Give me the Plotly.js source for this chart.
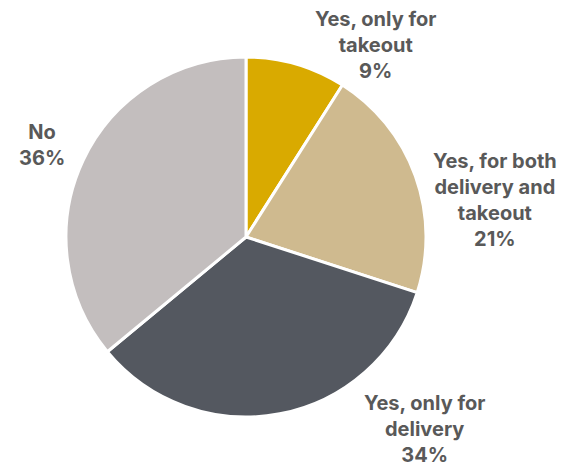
<!DOCTYPE html>
<html>
<head>
<meta charset="utf-8">
<script src="https://cdn.plot.ly/plotly-3.0.1.min.js"></script>
<style>html,body{margin:0;padding:0;background:#fff;}#chart{width:569px;height:470px;}</style>
</head>
<body>
<div id="chart"></div>
<script>
const categories = ["Yes, only for takeout", "Yes, for both delivery and takeout", "Yes, only for delivery", "No"];
const labelLines = ["Yes, only for<br>takeout", "Yes, for both<br>delivery and<br>takeout", "Yes, only for<br>delivery", "No"];
const values = [9, 21, 34, 36];
const colors = ["#D9AA00", "#CFBA8F", "#545860", "#C3BEBE"];

const W = 569, H = 470, cx = 246, cy = 237, r = 180;
// label block centres in pixels (layout only)
const labelPos = [[375, 45], [495, 200], [424, 429], [42, 145]];

const trace = {
  type: "pie",
  labels: categories,
  values: values,
  textinfo: "none",
  sort: false,
  direction: "clockwise",
  rotation: 0,
  marker: {colors: colors, line: {color: "#ffffff", width: 3}},
  domain: {x: [(cx - r) / W, (cx + r) / W], y: [(H - cy - r) / H, (H - cy + r) / H]},
  hoverinfo: "label+percent"
};
const annotations = categories.map((c, i) => ({
  xref: "paper", yref: "paper",
  x: labelPos[i][0] / W, y: 1 - labelPos[i][1] / H,
  xanchor: "center", yanchor: "middle",
  showarrow: false, align: "center",
  text: labelLines[i] + "<br>" + values[i] + "%",
  font: {family: "Inter, Roboto, sans-serif", size: 20, color: "#595959", weight: "bold"}
}));
const layout = {
  width: W, height: H,
  margin: {l: 0, r: 0, t: 0, b: 0},
  showlegend: false,
  paper_bgcolor: "#ffffff",
  font: {family: "Inter, sans-serif"},
  annotations: annotations
};
Plotly.newPlot("chart", [trace], layout, {displayModeBar: false, staticPlot: true});
</script>
</body>
</html>
